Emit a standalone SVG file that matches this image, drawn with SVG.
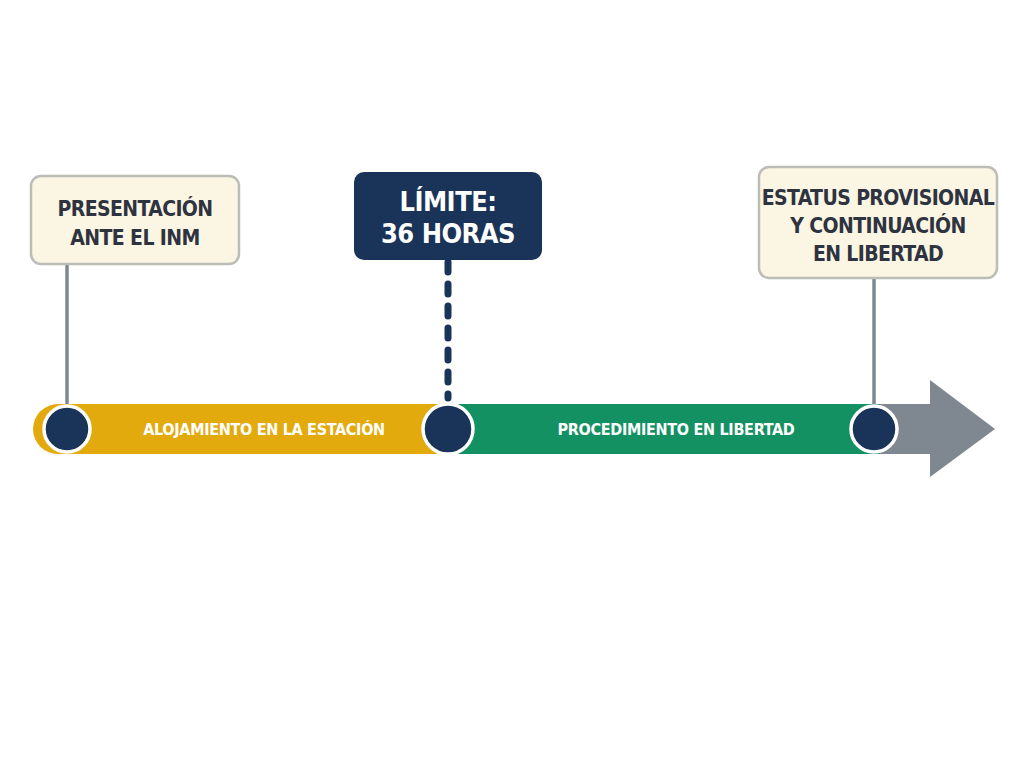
<svg xmlns="http://www.w3.org/2000/svg" width="1024" height="768" viewBox="0 0 1024 768">
<style>
text{font-family:"DejaVu Sans Condensed","DejaVu Sans",sans-serif;font-weight:bold;text-anchor:middle}
.note{fill:#fbf5e3;stroke:#bdbdb7;stroke-width:2.5}
.nt{fill:#2e3340;font-size:21px;letter-spacing:-0.6px}
.bt{fill:#ffffff;font-size:16px;letter-spacing:-0.3px}
.dot{fill:#1a3358;stroke:#ffffff;stroke-width:3.5}
.stem{stroke:#7f8790;stroke-width:3.5}
</style>
<rect width="1024" height="768" fill="#ffffff"/>
<g id="connectors">
<line class="stem" x1="67" y1="264" x2="67" y2="408"/>
<line x1="448" y1="262" x2="448" y2="398" stroke="#1a3358" stroke-width="7" stroke-linecap="round" stroke-dasharray="10 12"/>
<line class="stem" x1="874" y1="278" x2="874" y2="408"/>
</g>
<g id="timeline">
<polygon points="860,404 930,404 930,380 995,429 930,477 930,454 860,454" fill="#7f8790"/>
<rect x="440" y="404" width="440" height="50" fill="#139162"/>
<path d="M58,404 H450 V454 H58 A25,25 0 0 1 58,404 Z" fill="#e3aa0e"/>
<text class="bt" x="264" y="435">ALOJAMIENTO EN LA ESTACIÓN</text>
<text class="bt" x="676" y="435">PROCEDIMIENTO EN LIBERTAD</text>
</g>
<g id="node-presentacion">
<rect class="note" x="31" y="176" width="208" height="88" rx="10"/>
<text class="nt" x="135" y="216">PRESENTACIÓN</text>
<text class="nt" x="135" y="245">ANTE EL INM</text>
<circle class="dot" cx="67" cy="429" r="23"/>
</g>
<g id="node-limite">
<rect x="354" y="172" width="188" height="88" rx="10" fill="#1a3358"/>
<text x="448" y="211" fill="#ffffff" font-size="27" letter-spacing="-0.5">LÍMITE:</text>
<text x="448" y="243" fill="#ffffff" font-size="27" letter-spacing="-0.5">36 HORAS</text>
<circle class="dot" cx="448" cy="429" r="25"/>
</g>
<g id="node-estatus">
<rect class="note" x="759" y="167" width="238" height="111" rx="10"/>
<text class="nt" x="878" y="205">ESTATUS PROVISIONAL</text>
<text class="nt" x="878" y="233">Y CONTINUACIÓN</text>
<text class="nt" x="878" y="261">EN LIBERTAD</text>
<circle class="dot" cx="874" cy="429" r="23"/>
</g>
</svg>
